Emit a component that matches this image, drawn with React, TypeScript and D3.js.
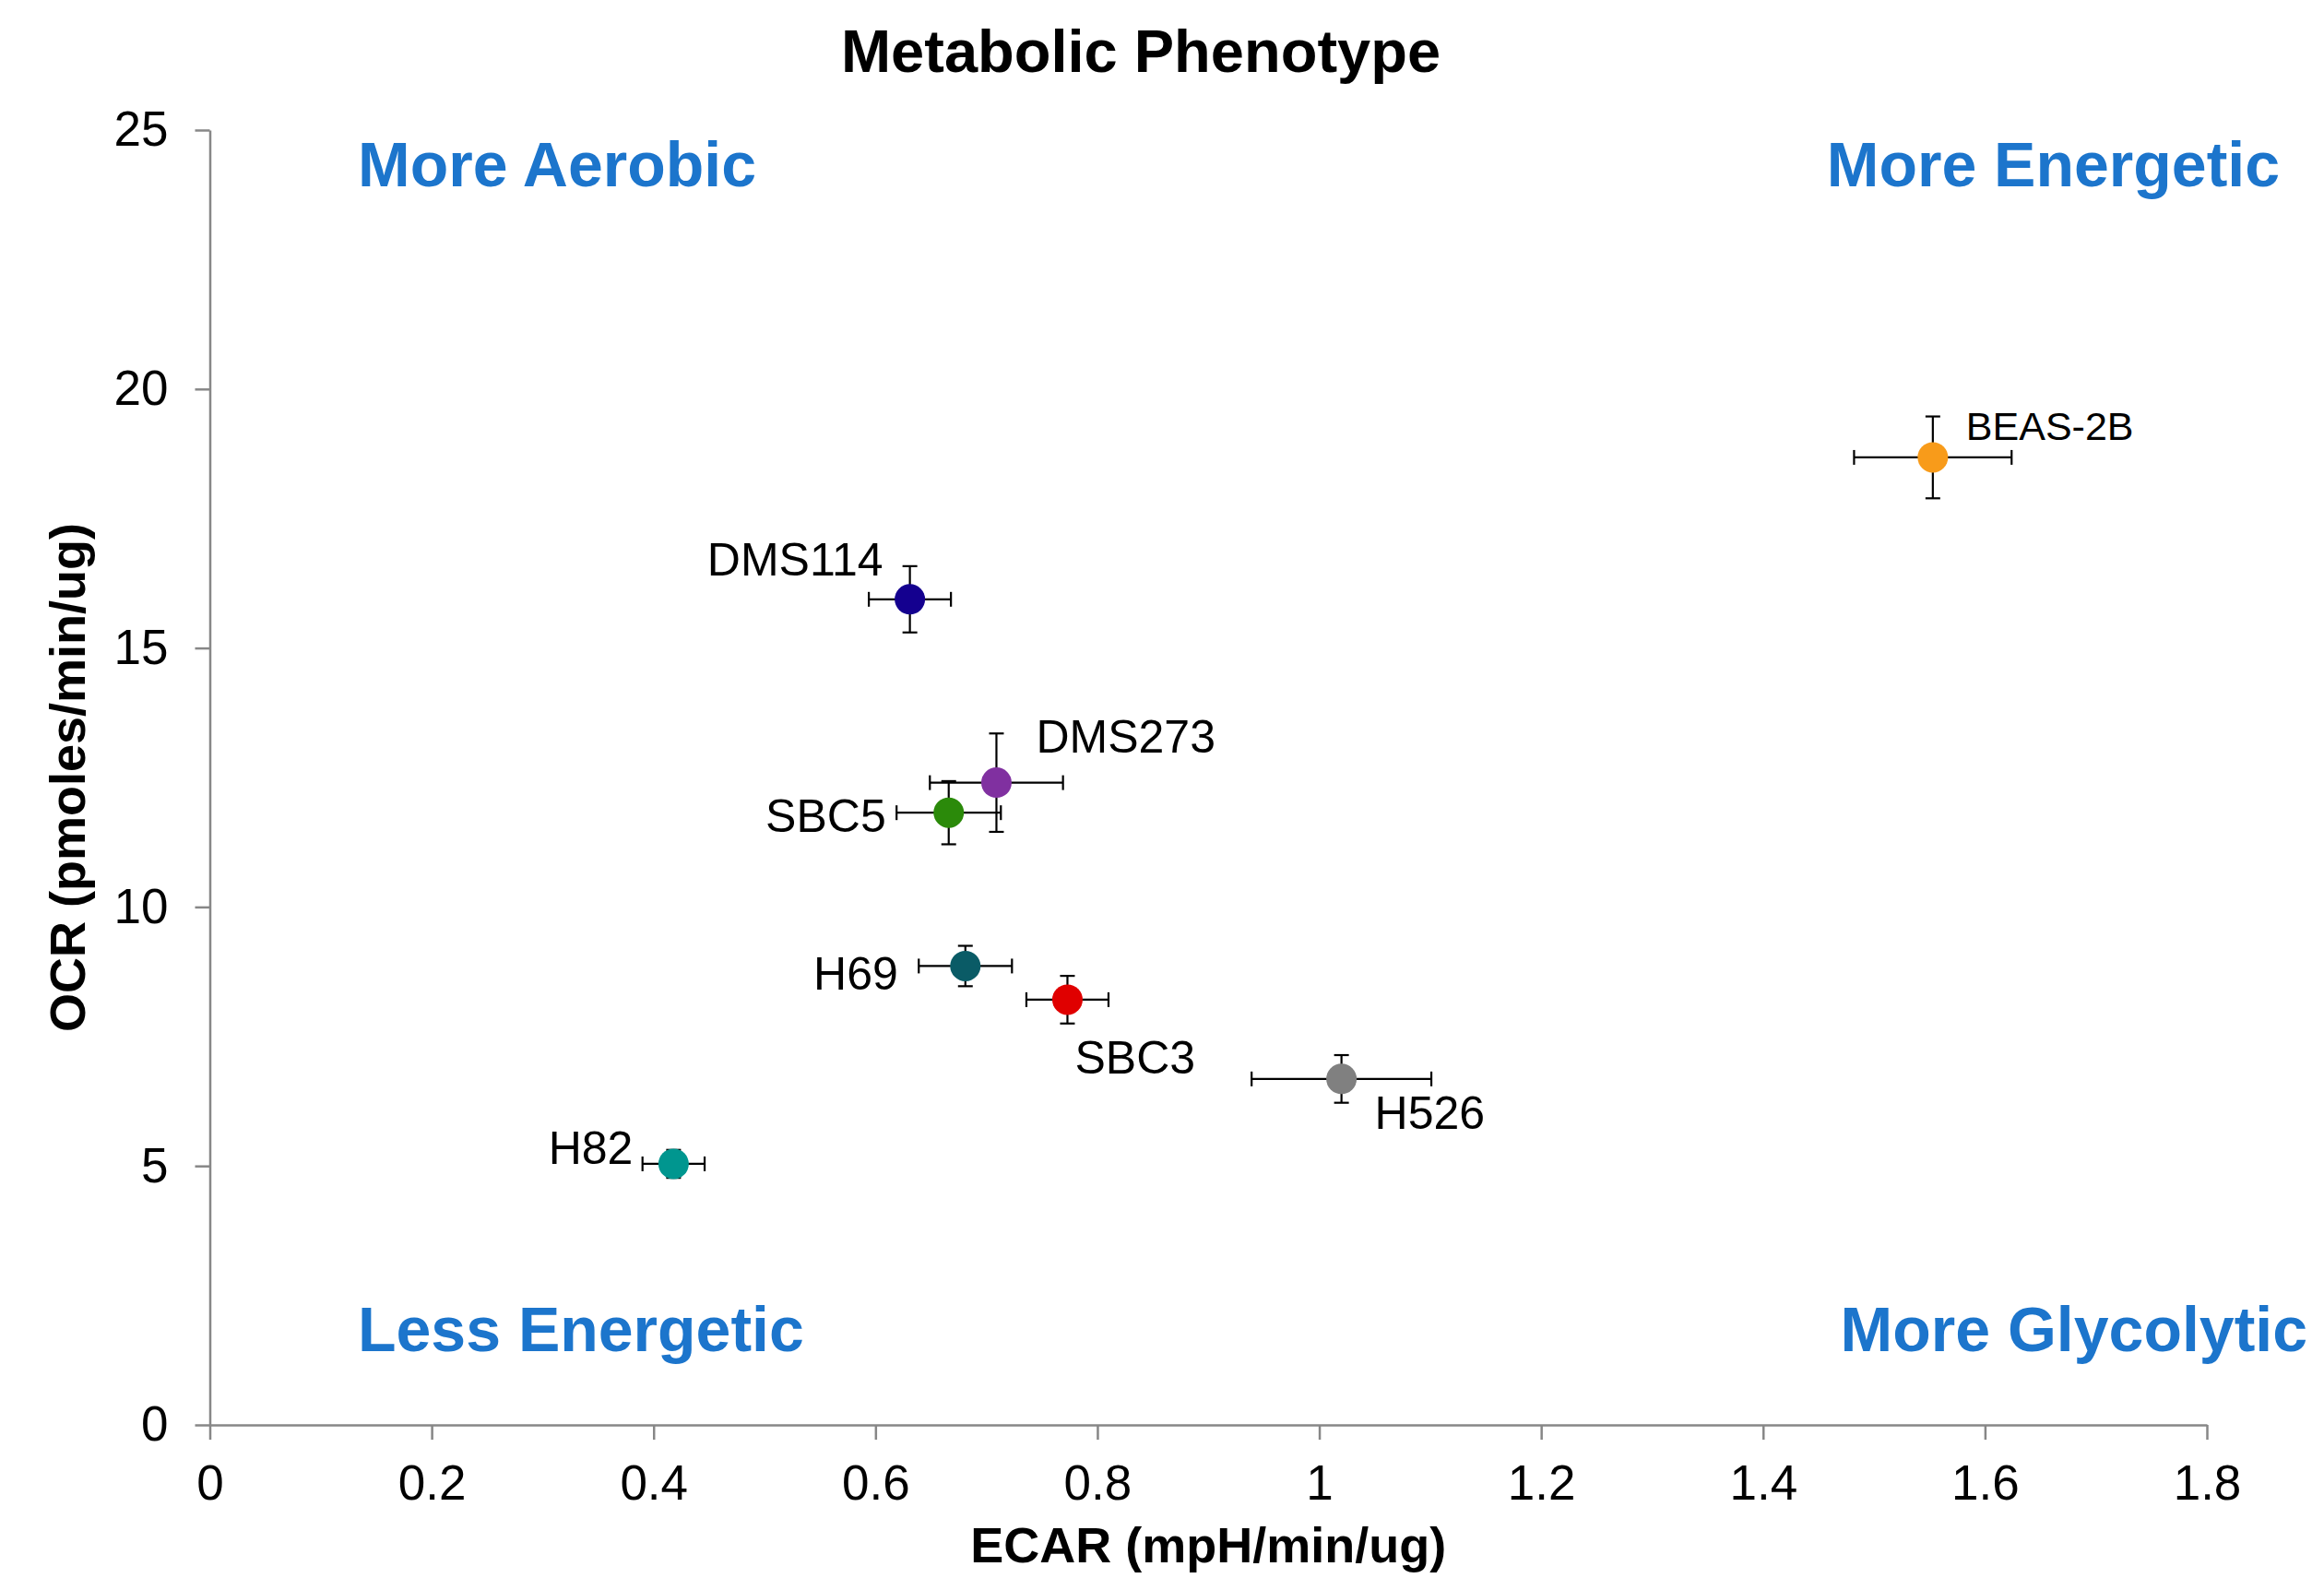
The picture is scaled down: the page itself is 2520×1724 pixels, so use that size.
import { useEffect, useRef } from 'react'
import * as d3 from 'd3'

// Cell lines and their metabolic readings (mean ± error)
const cellLines = ['BEAS-2B', 'DMS114', 'DMS273', 'SBC5', 'H69', 'SBC3', 'H526', 'H82']
const ecar = [1.553, 0.631, 0.709, 0.666, 0.681, 0.773, 1.02, 0.418]
const ecarErr = [0.071, 0.037, 0.06, 0.047, 0.042, 0.037, 0.081, 0.028]
const ocr = [18.68, 15.94, 12.4, 11.82, 8.86, 8.21, 6.68, 5.04]
const ocrErr = [0.79, 0.64, 0.95, 0.61, 0.39, 0.46, 0.46, 0.27]
const pointColors = ['#f89b1a', '#14008f', '#8030a0', '#2b8a0a', '#0a5b66', '#e00000', '#808080', '#00968f']

const xTicks = [0, 0.2, 0.4, 0.6, 0.8, 1, 1.2, 1.4, 1.6, 1.8]
const yTicks = [0, 5, 10, 15, 20, 25]

const quadrantLabels = ['More Aerobic', 'More Energetic', 'Less Energetic', 'More Glycolytic']

// label placement next to each point: [dx, dy, anchor, fontSize]
const labelPlacement: [number, number, string, number][] = [
  [36, -19, 'start', 43],
  [-29, -26, 'end', 50],
  [43, -33, 'start', 50],
  [-68, 21, 'end', 50],
  [-73, 26, 'end', 50],
  [8, 80, 'start', 50],
  [36, 54, 'start', 50],
  [-44, 0, 'end', 50],
]

const W = 2520
const H = 1724
const FONT = '"Liberation Sans", Arial, Helvetica, sans-serif'

export default function App() {
  const ref = useRef<SVGSVGElement>(null)

  useEffect(() => {
    document.body.style.margin = '0'
    if (!ref.current) return
    const svg = d3.select(ref.current)
    svg.selectAll('*').remove()

    const x = d3.scaleLinear().domain([0, 1.8]).range([227.5, 2393])
    const y = d3.scaleLinear().domain([0, 25]).range([1545, 141])

    svg.append('rect').attr('width', W).attr('height', H).attr('fill', '#fff')

    // Title
    svg
      .append('text')
      .attr('x', 1237)
      .attr('y', 78)
      .attr('text-anchor', 'middle')
      .style('font', `bold 65px ${FONT}`)
      .attr('fill', '#000')
      .text('Metabolic Phenotype')

    // X axis
    const gx = svg
      .append('g')
      .attr('transform', `translate(0, ${y(0)})`)
      .call(
        d3
          .axisBottom(x)
          .tickValues(xTicks)
          .tickSize(16)
          .tickSizeOuter(0)
          .tickPadding(27)
          .tickFormat((d) => String(d))
      )
    gx.selectAll('path, line').attr('stroke', '#878787').attr('stroke-width', 2.5)
    gx.selectAll('text').attr('fill', '#000').style('font', `53px ${FONT}`)

    // Y axis
    const gy = svg
      .append('g')
      .attr('transform', `translate(${x(0)}, 0)`)
      .call(
        d3
          .axisLeft(y)
          .tickValues(yTicks)
          .tickSize(16)
          .tickSizeOuter(0)
          .tickPadding(29)
          .tickFormat((d) => String(d))
      )
    gy.selectAll('path, line').attr('stroke', '#878787').attr('stroke-width', 2.5)
    gy.selectAll('text').attr('fill', '#000').style('font', `53px ${FONT}`)

    // Axis titles
    svg
      .append('text')
      .attr('x', (x(0) + x(1.8)) / 2)
      .attr('y', 1694)
      .attr('text-anchor', 'middle')
      .style('font', `bold 54px ${FONT}`)
      .text('ECAR (mpH/min/ug)')

    svg
      .append('text')
      .attr('transform', `translate(92, ${(y(0) + y(25)) / 2}) rotate(-90)`)
      .attr('text-anchor', 'middle')
      .style('font', `bold 54px ${FONT}`)
      .text('OCR (pmoles/min/ug)')

    // Quadrant labels
    const quadPos: [number, number, string][] = [
      [388, 202, 'start'],
      [2472, 202, 'end'],
      [388, 1465, 'start'],
      [2502, 1465, 'end'],
    ]
    svg
      .append('g')
      .selectAll('text')
      .data(quadrantLabels)
      .enter()
      .append('text')
      .attr('x', (_, i) => quadPos[i][0])
      .attr('y', (_, i) => quadPos[i][1])
      .attr('text-anchor', (_, i) => quadPos[i][2])
      .attr('fill', '#1c75cc')
      .style('font', `bold 68px ${FONT}`)
      .text((d) => d)

    const points = cellLines.map((name, i) => ({
      name,
      x: ecar[i],
      xe: ecarErr[i],
      y: ocr[i],
      ye: ocrErr[i],
      color: pointColors[i],
      place: labelPlacement[i],
    }))

    // Error bars
    const cap = 8
    const bars = svg.append('g').attr('stroke', '#000').attr('stroke-width', 2.2).attr('fill', 'none')
    points.forEach((p) => {
      const cx = x(p.x)
      const cy = y(p.y)
      const x0 = x(p.x - p.xe)
      const x1 = x(p.x + p.xe)
      const y0 = y(p.y - p.ye)
      const y1 = y(p.y + p.ye)
      bars.append('line').attr('x1', x0).attr('x2', x1).attr('y1', cy).attr('y2', cy)
      bars.append('line').attr('x1', x0).attr('x2', x0).attr('y1', cy - cap).attr('y2', cy + cap)
      bars.append('line').attr('x1', x1).attr('x2', x1).attr('y1', cy - cap).attr('y2', cy + cap)
      bars.append('line').attr('x1', cx).attr('x2', cx).attr('y1', y0).attr('y2', y1)
      bars.append('line').attr('x1', cx - cap).attr('x2', cx + cap).attr('y1', y0).attr('y2', y0)
      bars.append('line').attr('x1', cx - cap).attr('x2', cx + cap).attr('y1', y1).attr('y2', y1)
    })

    // Markers
    svg
      .append('g')
      .selectAll('circle')
      .data(points)
      .enter()
      .append('circle')
      .attr('cx', (d) => x(d.x))
      .attr('cy', (d) => y(d.y))
      .attr('r', 16.5)
      .attr('fill', (d) => d.color)

    // Point labels
    svg
      .append('g')
      .selectAll('text')
      .data(points)
      .enter()
      .append('text')
      .attr('x', (d) => x(d.x) + d.place[0])
      .attr('y', (d) => y(d.y) + d.place[1])
      .attr('text-anchor', (d) => d.place[2])
      .attr('fill', '#000')
      .style('font', (d) => `${d.place[3]}px ${FONT}`)
      .text((d) => d.name)
  }, [])

  return (
    <svg
      ref={ref}
      width={W}
      height={H}
      viewBox={`0 0 ${W} ${H}`}
      style={{ display: 'block', position: 'absolute', left: 0, top: 0 }}
    />
  )
}
